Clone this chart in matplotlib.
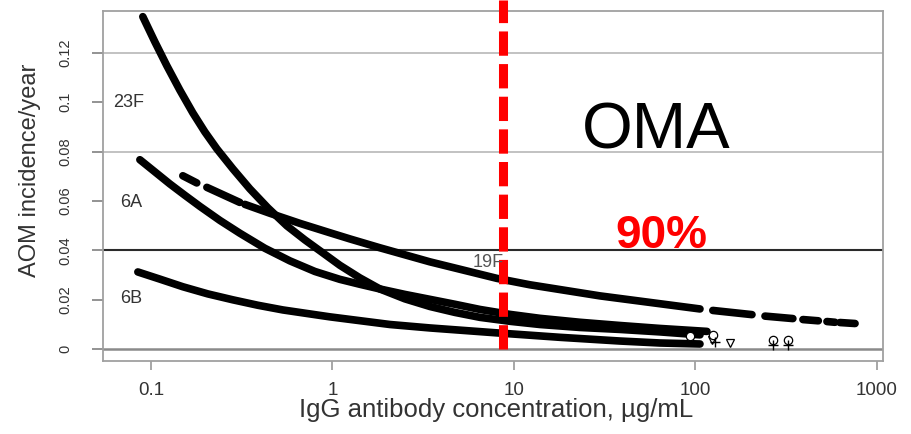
import matplotlib
matplotlib.use("Agg")
import matplotlib.pyplot as plt

plt.rcParams['font.family'] = ['Liberation Sans', 'DejaVu Sans']
plt.rcParams['lines.scale_dashes'] = False

# ---------------- data ----------------
x_23f = [0.0903, 0.1052, 0.1225, 0.1445, 0.1703, 0.1983, 0.2311, 0.2831, 0.3510, 0.4411,
         0.5614, 0.7055, 0.8534, 1.0998, 1.417, 1.827, 2.508, 3.445, 4.731, 6.497,
         9.506, 13.91, 23.10, 38.37, 63.74, 105.9]
y_23f = [0.1347, 0.1245, 0.1148, 0.1049, 0.0957, 0.0880, 0.0811, 0.0730, 0.0649, 0.0572,
         0.0499, 0.0442, 0.0398, 0.0339, 0.0288, 0.0243, 0.0203, 0.0172, 0.0148, 0.0128,
         0.0112, 0.0099, 0.0087, 0.0079, 0.0069, 0.0057]
x_23f_out = [123.3, 155.0]
y_23f_out = [0.0037, 0.0024]

x_6a = [0.0870, 0.1052, 0.1272, 0.1539, 0.1862, 0.2400, 0.3093, 0.4247, 0.5833, 0.8010,
        1.0998, 1.417, 1.827, 2.508, 3.445, 4.731, 6.497, 9.506, 13.91, 23.10,
        38.37, 63.74, 115.7]
y_6a = [0.0767, 0.0718, 0.0669, 0.0623, 0.0578, 0.0521, 0.0469, 0.0408, 0.0357, 0.0314,
        0.0282, 0.0262, 0.0243, 0.0221, 0.0201, 0.0181, 0.0160, 0.0140, 0.0124, 0.0108,
        0.0095, 0.0083, 0.0071]
x_6a_out = [93.3, 124.6, 267.0, 324.0]
y_6a_out = [0.0053, 0.0055, 0.0037, 0.0037]

# 19F: two short clusters at the low end, the main band, then short pieces at the high end
x_19f_a = [0.150, 0.179]
y_19f_a = [0.0702, 0.0673]
x_19f_b = [0.2035, 0.309]
y_19f_b = [0.0655, 0.0594]
x_19f = [0.3296, 0.4524, 0.6622, 0.9687, 1.248, 1.827, 3.445, 8.058, 12.25, 29.77, 105.9]
y_19f = [0.0586, 0.0550, 0.0509, 0.0471, 0.0446, 0.0410, 0.0353, 0.0286, 0.0260, 0.0215, 0.0162]
x_19f_pieces = [[124.6, 204.8], [241.5, 344.0], [390.8, 475.0], [530.0, 587.0], [625.0, 757.0]]
y_19f_pieces = [[0.0156, 0.0139], [0.0133, 0.0123], [0.0119, 0.0114], [0.0111, 0.0108], [0.0107, 0.0103]]

x_6b = [0.0848, 0.1121, 0.1501, 0.2061, 0.2831, 0.3886, 0.5337, 0.9687, 2.074, 3.445,
        8.058, 17.92, 38.37, 63.74, 105.9]
y_6b = [0.0312, 0.0283, 0.0252, 0.0223, 0.0199, 0.0177, 0.0158, 0.0130, 0.0099, 0.0085,
        0.0065, 0.0047, 0.0032, 0.0024, 0.0020]
x_6b_out = [128.0, 267.0, 324.0]
y_6b_out = [0.0028, 0.0016, 0.0016]

threshold = 8.7          # red dashed line position (µg/mL)
grid_light = [0.08, 0.12]
grid_dark = [0.04]
yticks = [0, 0.02, 0.04, 0.06, 0.08, 0.1, 0.12]
ytick_labels = ['0', '0.02', '0.04', '0.06', '0.08', '0.1', '0.12']
xticks = [0.1, 1, 10, 100, 1000]
xtick_labels = ['0.1', '1', '10', '100', '1000']

# ---------------- figure ----------------
W, H = 911, 434
fig = plt.figure(figsize=(W / 100, H / 100), dpi=100)
ax = fig.add_axes([103 / W, 1 - 361 / H, (883 - 103) / W, (361 - 11) / H])
ax.set_xscale('log')
ax.set_xlim(0.0545, 1079)
ax.set_ylim(-0.0049, 0.137)

for s in ax.spines.values():
    s.set_color('#a0a0a0')
    s.set_linewidth(1.3)

for g in grid_light:
    ax.axhline(g, color='#bdbdbd', lw=1.3, zorder=1)
for g in grid_dark:
    ax.axhline(g, color='#2a2a2a', lw=1.5, zorder=1)
ax.axhline(0, color='#8a8a8a', lw=1.8, zorder=1)

band = dict(color='black', lw=5.5, solid_capstyle='round', solid_joinstyle='round', zorder=3)
ax.plot(x_23f, y_23f, **band)
ax.plot(x_6a, y_6a, **band)
ax.plot(x_19f_a, y_19f_a, **band)
ax.plot(x_19f_b, y_19f_b, **band)
ax.plot(x_19f, y_19f, **band)
for xs, ys in zip(x_19f_pieces, y_19f_pieces):
    ax.plot(xs, ys, **band)
ax.plot(x_6b, y_6b, **band)

ax.plot(x_23f_out, y_23f_out, ls='none', marker='v', ms=6, mfc='white', mec='black', mew=0.9, zorder=3)
ax.plot(x_6a_out, y_6a_out, ls='none', marker='o', ms=6, mfc='white', mec='black', mew=0.9, zorder=3)
ax.plot(x_6b_out, y_6b_out, ls='none', marker='+', ms=7, mec='black', mew=1.0, zorder=3)

# red dashed threshold line
ax.plot([threshold, threshold], [0, 0.1416], color='#ff0000', lw=6.5,
        dashes=(17.5, 6.0), dash_capstyle='butt', clip_on=False, zorder=6)

# ticks
ax.set_yticks(yticks)
ax.set_yticklabels(ytick_labels, rotation=90, va='center', fontsize=10.5, color='#333333')
ax.set_xticks(xticks)
ax.set_xticklabels(xtick_labels, fontsize=13.5, color='#333333')
ax.minorticks_off()
ax.tick_params(axis='y', length=8, width=1.3, color='#8a8a8a', pad=14)
ax.tick_params(axis='x', length=6.5, width=1.3, color='#a0a0a0', pad=8.5)

# axis labels
fig.text(496 / W, 1 - 410 / H, 'IgG antibody concentration, µg/mL', ha='center', va='center',
         fontsize=18.5, color='#333333')
fig.text(30 / W, 1 - 170 / H, 'AOM incidence/year', ha='center', va='center', rotation=90,
         fontsize=17, color='#333333')

# series labels
lab = dict(fontsize=13, color='#333333', va='baseline', ha='left', zorder=4)
fig.text(113 / W, 1 - 107 / H, '23F', **lab)
fig.text(120 / W, 1 - 207 / H, '6A', **lab)
fig.text(120 / W, 1 - 303 / H, '6B', **lab)
fig.text(473 / W, 1 - 267 / H, '19F', fontsize=13, color='#555555', va='baseline', ha='left', zorder=2)

# annotations
fig.text(656 / W, 1 - 148 / H, 'OMA', ha='center', va='baseline', fontsize=47, color='black')
fig.text(661 / W, 1 - 248 / H, '90%', ha='center', va='baseline', fontsize=33,
         fontweight='bold', color='#ff0000')

fig.savefig('out.png', dpi=100)
